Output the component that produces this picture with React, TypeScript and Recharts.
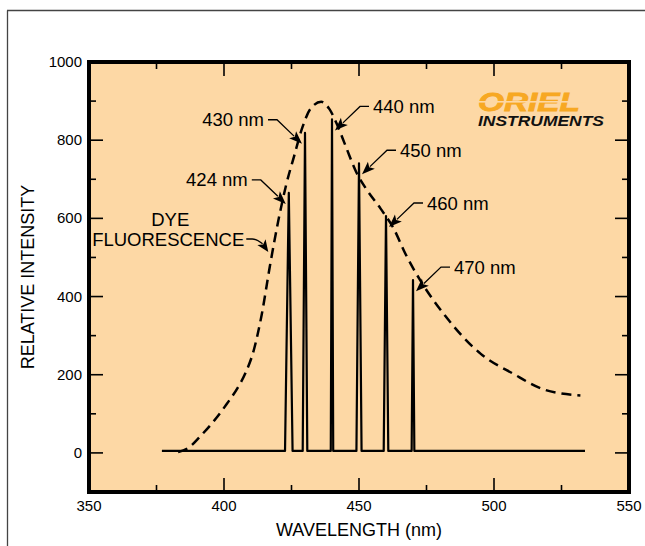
import React from "react"
import {
  ComposedChart,
  Line,
  XAxis,
  YAxis,
  CartesianGrid,
  ReferenceDot,
  Customized,
  Label,
} from "recharts"

// axis ticks
const X_TICKS = [350, 375, 400, 425, 450, 475, 500, 525, 550]
const Y_TICKS = [0, 100, 200, 300, 400, 500, 600, 700, 800, 900, 1000]

// spectral lines (nm, peak height, half width of the line base in nm)
const LINE_NM = [424, 430, 440, 450, 460, 470]
const LINE_PEAK = [665, 819, 853, 741, 606, 442]
const LINE_HALF = [1.4, 0.85, 0.45, 0.95, 0.85, 0.5]
const BASE_START = 377
const BASE_END = 533.7
const BASE_LEVEL = 5

// dye fluorescence curve
const DYE_NM = [383, 387, 391, 397, 401, 405, 408, 411, 414, 417, 420, 423, 426, 429, 432, 436, 439, 442, 445, 449, 453, 458, 463, 467, 473, 482, 495, 507, 519, 532]
const DYE_VAL = [2, 14, 41, 88, 125, 166, 205, 262, 355, 478, 590, 685, 760, 832, 880, 898, 880, 838, 786, 718, 672, 625, 572, 512, 438, 350, 254, 203, 161, 147]

const DYE_LABEL_AT = { nm: 416.4, v: 514 }

const BG = "#FDD8A5"
const ORANGE = "#F7A823"
const FONT = "'Liberation Sans', Arial, Helvetica, sans-serif"

const spectrum: { nm: number; v: number }[] = [{ nm: BASE_START, v: BASE_LEVEL }]
LINE_NM.forEach((nm, i) => {
  spectrum.push({ nm: nm - LINE_HALF[i], v: BASE_LEVEL })
  spectrum.push({ nm, v: LINE_PEAK[i] })
  spectrum.push({ nm: nm + LINE_HALF[i], v: BASE_LEVEL })
})
spectrum.push({ nm: BASE_END, v: BASE_LEVEL })

const dye = DYE_NM.map((nm, i) => ({ nm, v: DYE_VAL[i] }))

const MAJOR = 14
const MINOR = 7

function BottomTick(props: any) {
  const { x, y, payload } = props
  const major = payload.value % 50 === 0
  return (
    <g>
      <line x1={x} y1={y} x2={x} y2={y - (major ? MAJOR : MINOR)} stroke="#000" strokeWidth={1.6} />
      {major && (
        <text x={x} y={y + 19} textAnchor="middle" fontSize={15} fill="#000" fontFamily={FONT}>
          {payload.value}
        </text>
      )}
    </g>
  )
}

function TopTick(props: any) {
  const { x, y, payload } = props
  const major = payload.value % 50 === 0
  return <line x1={x} y1={y} x2={x} y2={y + (major ? MAJOR : MINOR)} stroke="#000" strokeWidth={1.6} />
}

function LeftTick(props: any) {
  const { x, y, payload } = props
  const major = payload.value % 200 === 0
  return (
    <g>
      <line x1={x} y1={y} x2={x + (major ? MAJOR : MINOR)} y2={y} stroke="#000" strokeWidth={1.6} />
      {major && (
        <text x={x - 7} y={y + 5} textAnchor="end" fontSize={15} fill="#000" fontFamily={FONT}>
          {payload.value}
        </text>
      )}
    </g>
  )
}

function RightTick(props: any) {
  const { x, y, payload } = props
  const major = payload.value % 200 === 0
  return <line x1={x} y1={y} x2={x - (major ? MAJOR : MINOR)} y2={y} stroke="#000" strokeWidth={1.6} />
}

// barbed arrowhead pointing from (ex,ey) to (tx,ty)
function arrowHead(tx: number, ty: number, ex: number, ey: number, len = 13, w = 5) {
  const dx = tx - ex
  const dy = ty - ey
  const d = Math.hypot(dx, dy)
  const ux = dx / d
  const uy = dy / d
  const bx = tx - ux * len
  const by = ty - uy * len
  const nx = -uy
  const ny = ux
  const notchX = bx + ux * 3
  const notchY = by + uy * 3
  return {
    base: [bx + ux * 2, by + uy * 2],
    points: `${tx},${ty} ${bx + nx * w},${by + ny * w} ${notchX},${notchY} ${bx - nx * w},${by - ny * w}`,
  }
}

function peakLabel(nm: number) {
  const left = nm < 435
  const text = `${nm} nm`
  return (p: any) => {
    const { cx, cy } = p
    const s = left ? -1 : 1
    const tipX = cx + s * 3
    const tipY = cy + 11
    const elX = cx + s * 28
    const elY = cy - 13
    const hX = cx + s * 37
    const a = arrowHead(tipX, tipY, elX, elY)
    return (
      <g>
        <polyline
          points={`${hX},${elY} ${elX},${elY} ${a.base[0]},${a.base[1]}`}
          fill="none"
          stroke="#000"
          strokeWidth={1.3}
        />
        <polygon points={a.points} fill="#000" />
        <text
          x={cx + s * 41}
          y={elY + 6.5}
          textAnchor={left ? "end" : "start"}
          fontSize={18.5}
          fill="#000"
          fontFamily={FONT}
        >
          {text}
        </text>
      </g>
    )
  }
}

function DyeLabel(p: any) {
  const { cx, cy } = p
  const a = arrowHead(cx, cy, cx - 9, cy - 13, 12, 5)
  return (
    <g>
      <path
        d={`M${cx - 22},${cy - 13} L${cx - 16},${cy - 13} Q${cx - 12},${cy - 13} ${a.base[0]},${a.base[1]}`}
        fill="none"
        stroke="#000"
        strokeWidth={1.3}
      />
      <polygon points={a.points} fill="#000" />
      <text x={cx - 98} y={cy - 26} textAnchor="middle" fontSize={18.5} fill="#000" fontFamily={FONT}>
        DYE
      </text>
      <text x={cx - 24} y={cy - 6} textAnchor="end" fontSize={18.5} fill="#000" fontFamily={FONT}>
        FLUORESCENCE
      </text>
    </g>
  )
}

function Decor() {
  return (
    <g>
      <line x1={7.5} y1={10.5} x2={7.5} y2={546} stroke="#444" strokeWidth={1.3} />
      <line x1={7} y1={10.5} x2={645} y2={10.5} stroke="#444" strokeWidth={1.3} />
      <text
        x={478}
        y={111}
        fontSize={25}
        fontWeight={900}
        fontStyle="italic"
        fill={ORANGE}
        fontFamily={FONT}
        textLength={102}
        lengthAdjust="spacingAndGlyphs"
        stroke={ORANGE}
        strokeWidth={0.8}
      >
        ORIEL
      </text>
      <rect x={474} y={101} width={112} height={1.6} fill={BG} />
      <text
        x={478}
        y={126}
        fontSize={14}
        fontWeight={700}
        fontStyle="italic"
        fill="#111"
        fontFamily={FONT}
        textLength={126}
        lengthAdjust="spacingAndGlyphs"
      >
        INSTRUMENTS
      </text>
    </g>
  )
}

const axisLine = { stroke: "#000", strokeWidth: 4, strokeLinecap: "square" as const }

export default function App() {
  return (
    <div style={{ position: "absolute", left: 0, top: 0, width: 645, height: 546, background: "#fff" }}>
      <ComposedChart
        width={645}
        height={546}
        margin={{ top: 42, right: 0, bottom: 14, left: 0 }}
        style={{ fontFamily: FONT }}
      >
        <CartesianGrid horizontal={false} vertical={false} fill={BG} fillOpacity={1} />
        <XAxis
          dataKey="nm"
          type="number"
          domain={[350, 550]}
          ticks={X_TICKS}
          interval={0}
          allowDataOverflow
          height={40}
          tickSize={0}
          tickMargin={0}
          tickLine={false}
          axisLine={axisLine}
          tick={<BottomTick />}
        >
          <Label value="WAVELENGTH (nm)" position="center" dy={18} fontSize={18} fill="#000" />
        </XAxis>
        <XAxis
          xAxisId="top"
          orientation="top"
          dataKey="nm"
          type="number"
          domain={[350, 550]}
          ticks={X_TICKS}
          interval={0}
          allowDataOverflow
          height={20}
          tickSize={0}
          tickMargin={0}
          tickLine={false}
          axisLine={axisLine}
          tick={<TopTick />}
        />
        <YAxis
          type="number"
          domain={[-100, 1000]}
          ticks={Y_TICKS}
          interval={0}
          allowDataOverflow
          width={89}
          tickSize={0}
          tickMargin={0}
          tickLine={false}
          axisLine={axisLine}
          tick={<LeftTick />}
        >
          <Label value="RELATIVE INTENSITY" position="center" angle={-90} dx={-17} fontSize={18} fill="#000" />
        </YAxis>
        <YAxis
          yAxisId="right"
          orientation="right"
          type="number"
          domain={[-100, 1000]}
          ticks={Y_TICKS}
          interval={0}
          allowDataOverflow
          width={16}
          tickSize={0}
          tickMargin={0}
          tickLine={false}
          axisLine={axisLine}
          tick={<RightTick />}
        />
        <Line
          data={dye}
          dataKey="v"
          type="monotone"
          stroke="#000"
          strokeWidth={2.5}
          strokeDasharray="10 6"
          dot={false}
          isAnimationActive={false}
        />
        <Line
          data={spectrum}
          dataKey="v"
          type="linear"
          stroke="#000"
          strokeWidth={2.2}
          strokeLinejoin="round"
          dot={false}
          isAnimationActive={false}
        />
        {LINE_NM.map((nm, i) => (
          <ReferenceDot key={nm} x={nm} y={LINE_PEAK[i]} r={0} ifOverflow="visible" shape={peakLabel(nm)} />
        ))}
        <ReferenceDot x={DYE_LABEL_AT.nm} y={DYE_LABEL_AT.v} r={0} ifOverflow="visible" shape={DyeLabel} />
        <Customized component={Decor} />
      </ComposedChart>
    </div>
  )
}
